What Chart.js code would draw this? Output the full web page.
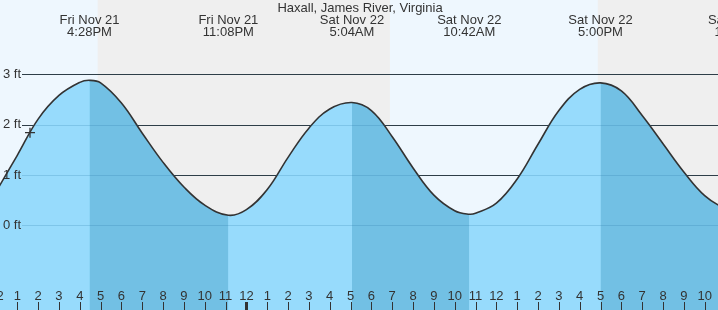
<!DOCTYPE html>
<html>
<head>
<meta charset="utf-8">
<script src="https://cdn.jsdelivr.net/npm/chart.js@4/dist/chart.umd.min.js"></script>
<style>
    html, body { margin: 0; padding: 0; background: #fff; }
    #wrap { width: 718px; height: 310px; }
</style>
</head>
<body>
<div id="wrap"><canvas id="tideChart" width="718" height="310"></canvas></div>
<script>
/**
 * Haxall, James River - courbe de maree
 * Heures exprimees en heures depuis Ven 21 nov 00:00
 */

// Courbe (heure, hauteur en ft)
const tideHours = [12, 13, 14, 15, 16, 16.467, 17, 18, 19, 20, 21, 22, 23.133,
    24, 25, 26, 27, 28, 29.067, 30, 31, 32, 33, 34, 34.7, 35,
    36, 37, 38, 39, 40, 41, 42, 43, 44, 45, 46, 47, 47.7];
const tideFeet = [0.68, 1.39, 2.11, 2.58, 2.84, 2.88, 2.83, 2.43, 1.83, 1.25, 0.76, 0.40, 0.20,
    0.31, 0.71, 1.35, 1.93, 2.31, 2.44, 2.28, 1.76, 1.14, 0.60, 0.29, 0.22, 0.24,
    0.44, 0.92, 1.61, 2.28, 2.70, 2.83, 2.67, 2.18, 1.62, 1.06, 0.59, 0.33, 0.28];

// Pleines et basses mers
const eventHours = [16.467, 23.133, 29.067, 34.7, 41, 47.7];
const eventDates = ['Fri Nov 21', 'Fri Nov 21', 'Sat Nov 22', 'Sat Nov 22', 'Sat Nov 22', 'Sat Nov 22'];
const eventTimes = ['4:28PM', '11:08PM', '5:04AM', '10:42AM', '5:00PM', '11:41PM'];

// Jour / nuit (coucher, lever, coucher)
const sunsetHours = [16.86, 40.87];
const sunriseHours = [30.89];

// Heure courante
const nowHour = [13.61];
const nowFeet = [1.84];

// Graduations
const feetTicks = [0, 1, 2, 3];
const hourTicks = [];
for (let h = 12; h <= 46; h++) hourTicks.push(h);

const X_MIN = 12.17;
const X_MAX = 46.64;
const Y_MIN = -1.683;
const Y_MAX = 4.476;

const COLORS = {
    day: '#eef7fe',
    night: '#efefef',
    rising: '#97dbfc',
    falling: '#72c0e4',
    line: '#333333',
    text: '#333333',
    faint: 'rgba(30, 110, 160, 0.2)'
};
const FONT = "'Liberation Sans', Arial, sans-serif";

const tidePoints = () => tideHours.map((h, i) => ({ x: h, y: tideFeet[i] }));

/**
 * Fond jour / nuit + lignes horizontales
 */
const backgroundPlugin = {
    id: 'tideBackground',
    beforeDatasetsDraw(chart) {
        const { ctx, chartArea: a, scales: { x, y } } = chart;
        ctx.save();
        ctx.fillStyle = COLORS.night;
        ctx.fillRect(a.left, a.top, a.right - a.left, a.bottom - a.top);
        ctx.fillStyle = COLORS.day;
        // jour du vendredi jusqu'au coucher
        const s0 = x.getPixelForValue(sunsetHours[0]);
        ctx.fillRect(a.left, a.top, s0 - a.left, a.bottom - a.top);
        // jour du samedi
        const r1 = x.getPixelForValue(sunriseHours[0]);
        const s1 = x.getPixelForValue(sunsetHours[1]);
        ctx.fillRect(r1, a.top, s1 - r1, a.bottom - a.top);

        ctx.strokeStyle = COLORS.line;
        ctx.lineWidth = 1;
        feetTicks.forEach(v => {
            const py = Math.round(y.getPixelForValue(v)) + 0.5;
            ctx.beginPath();
            ctx.moveTo(22, py);
            ctx.lineTo(a.right, py);
            ctx.stroke();
        });
        ctx.restore();
    },
    afterDatasetsDraw(chart) {
        const { ctx, chartArea: a, scales: { x, y } } = chart;
        ctx.save();
        // lignes legeres visibles dans la zone remplie
        ctx.strokeStyle = COLORS.faint;
        ctx.lineWidth = 1;
        feetTicks.forEach(v => {
            const py = Math.round(y.getPixelForValue(v)) + 0.5;
            ctx.beginPath();
            ctx.moveTo(22, py);
            ctx.lineTo(a.right, py);
            ctx.stroke();
        });

        ctx.fillStyle = COLORS.text;
        ctx.textAlign = 'left';
        ctx.textBaseline = 'middle';
        ctx.font = '13px ' + FONT;
        feetTicks.forEach(v => {
            ctx.fillText(v + ' ft', 3, y.getPixelForValue(v));
        });

        // titre + evenements
        ctx.textAlign = 'center';
        ctx.fillText('Haxall, James River, Virginia', 360, 8);
        eventHours.forEach((h, i) => {
            const px = x.getPixelForValue(h);
            ctx.fillText(eventDates[i], px, 20);
            ctx.fillText(eventTimes[i], px, 32);
        });

        // heures en bas
        hourTicks.forEach(h => {
            const px = x.getPixelForValue(h);
            const label = ((h - 1) % 12) + 1;
            ctx.fillText(String(label), px, 296);
            ctx.fillStyle = COLORS.line;
            if (h % 24 === 0) {
                ctx.fillRect(Math.round(px) - 1, 302, 3, 8);
            } else {
                ctx.fillRect(Math.round(px), 302, 1, 8);
            }
            ctx.fillStyle = COLORS.text;
        });
        ctx.restore();
    }
};

const curveStyle = {
    pointRadius: 0,
    tension: 0.4
};

new Chart(document.getElementById('tideChart'), {
    type: 'line',
    data: {
        datasets: [{
            // courbe
            ...curveStyle,
            data: tidePoints(),
            borderColor: COLORS.line,
            borderWidth: 1.6,
            fill: false,
            order: 2
        }, {
            // maree descendante (par-dessus)
            ...curveStyle,
            data: tidePoints(),
            borderWidth: 0,
            borderColor: 'rgba(0,0,0,0)',
            fill: 'start',
            backgroundColor: 'rgba(0,0,0,0)',
            segment: {
                backgroundColor: c => c.p1.parsed.y < c.p0.parsed.y ? COLORS.falling : 'rgba(0,0,0,0)'
            },
            order: 3
        }, {
            // maree montante (fond)
            ...curveStyle,
            data: tidePoints(),
            borderWidth: 0,
            borderColor: 'rgba(0,0,0,0)',
            fill: 'start',
            backgroundColor: COLORS.rising,
            order: 4
        }, {
            type: 'scatter',
            data: nowHour.map((h, i) => ({ x: h, y: nowFeet[i] })),
            pointStyle: 'cross',
            pointRadius: 5,
            borderColor: COLORS.line,
            borderWidth: 1.3,
            order: 1
        }]
    },
    options: {
        responsive: false,
        animation: false,
        layout: { padding: 0, autoPadding: false },
        plugins: {
            legend: { display: false },
            tooltip: { enabled: false }
        },
        scales: {
            x: { type: 'linear', min: X_MIN, max: X_MAX, display: false },
            y: { min: Y_MIN, max: Y_MAX, display: false }
        }
    },
    plugins: [backgroundPlugin]
});
</script>
</body>
</html>
